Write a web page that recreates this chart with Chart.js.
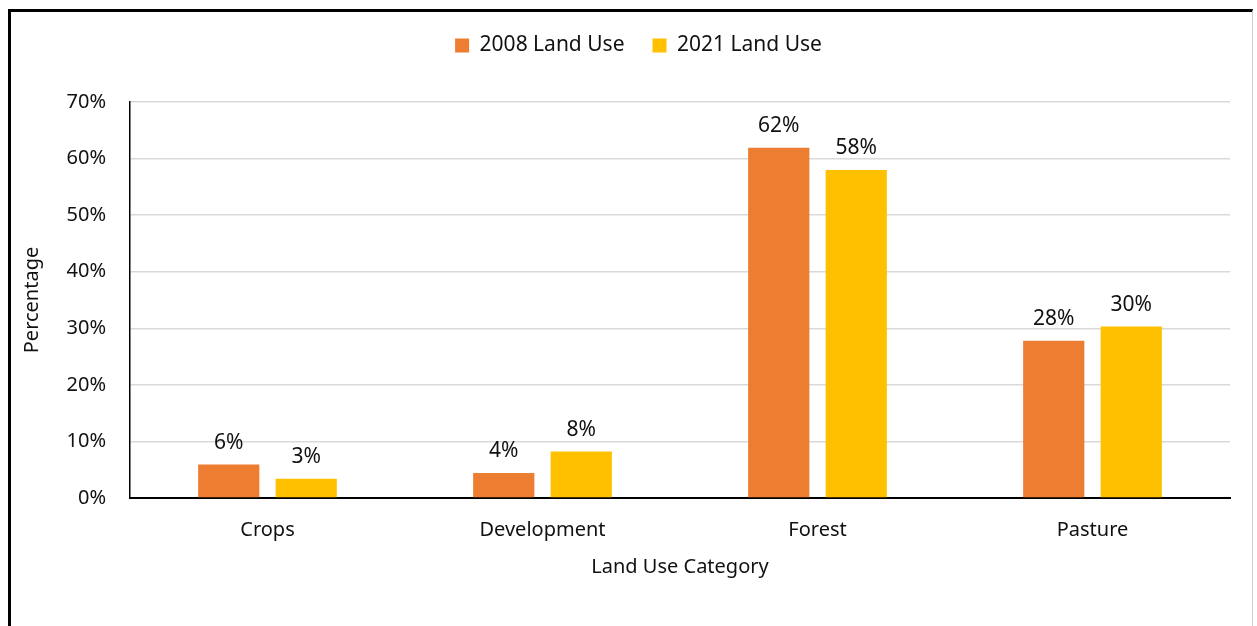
<!DOCTYPE html>
<html>
<head>
<meta charset="utf-8">
<script src="https://cdn.jsdelivr.net/npm/chart.js@4.4.1/dist/chart.umd.min.js"></script>
<style>
  html, body { margin: 0; padding: 0; background: #fff; overflow: hidden; }
  #wrap { position: relative; width: 1257px; height: 626px; }
  #frame { position: absolute; left: 8px; top: 9px; width: 1245px; height: 700px;
           border-left: 3px solid #000; border-top: 3px solid #000; border-right: 1px solid #d0d0d0; box-sizing: border-box; }
  canvas { position: absolute; left: 0; top: 0; }
</style>
</head>
<body>
<div id="wrap">
  <div id="frame"></div>
  <canvas id="grafico-uso-terra" width="1257" height="626"></canvas>
</div>
<script>
// categorias e valores (em %)
const categorias = ["Crops", "Development", "Forest", "Pasture"];
const uso2008 = [5.9, 4.4, 61.9, 27.8];
const uso2021 = [3.4, 8.2, 58.0, 30.3];
const ticksY = [0, 10, 20, 30, 40, 50, 60, 70];

const fonte = "'Noto Sans', 'Open Sans', sans-serif";
const corTexto = "#111";

// rótulos em cima das barras
const rotulosBarras = {
    id: "rotulosBarras",
    afterDatasetsDraw(chart) {
        const ctx = chart.ctx;
        ctx.save();
        ctx.font = "21px " + fonte;
        ctx.fillStyle = corTexto;
        ctx.textAlign = "center";
        ctx.textBaseline = "middle";
        chart.data.datasets.forEach((ds, i) => {
            chart.getDatasetMeta(i).data.forEach((bar, j) => {
                ctx.fillText(Math.round(ds.data[j]) + "%", bar.x, bar.y - 22);
            });
        });
        ctx.restore();
    }
};

const dadosUso = {
    labels: categorias,
    datasets: [{
        label: "2008 Land Use",
        data: uso2008,
        backgroundColor: "#ED7D31",
    }, {
        label: "2021 Land Use",
        data: uso2021,
        backgroundColor: "#FFC000",
    }]
};

const configUso = {
    type: "bar",
    data: dadosUso,
    plugins: [rotulosBarras],
    options: {
        responsive: false,
        animation: false,
        categoryPercentage: 0.5636,
        barPercentage: 0.79,
        // padding esquerdo maior só para centralizar a legenda como no original
        layout: { padding: { left: 47, right: 27, top: 7, bottom: 45 } },
        plugins: {
            legend: {
                position: "top",
                weight: 3000,
                labels: {
                    font: { family: fonte, size: 21 },
                    color: corTexto,
                    boxWidth: 14,
                    boxHeight: 14,
                    padding: 28
                }
            },
            title: {
                display: true,
                text: "",
                weight: 2000,
                font: { size: 10 },
                padding: { top: 0, bottom: 24 }
            },
            tooltip: { enabled: false }
        },
        scales: {
            x: {
                grid: { display: false, drawTicks: false },
                border: { color: "#000", width: 2 },
                ticks: { font: { family: fonte, size: 20 }, color: corTexto, padding: 20 },
                title: {
                    display: true,
                    text: "Land Use Category",
                    font: { family: fonte, size: 20 },
                    color: corTexto,
                    padding: { top: 0, bottom: 2 }
                },
                afterFit(scale) { scale.height = 83; }
            },
            y: {
                min: 0,
                max: 70,
                afterBuildTicks(scale) { scale.ticks = ticksY.map(v => ({ value: v })); },
                grid: { color: "#d9d9d9", lineWidth: 1.5, drawTicks: false },
                border: { color: "#000", width: 1.5 },
                ticks: {
                    font: { family: fonte, size: 20 },
                    color: corTexto,
                    padding: 24,
                    callback: v => v + "%"
                },
                title: {
                    display: true,
                    text: "Percentage",
                    font: { family: fonte, size: 20 },
                    color: corTexto,
                    padding: { top: -27, bottom: 0 }
                },
                afterFit(scale) { scale.width = 83; }
            }
        }
    }
};

let graficoUso = new Chart(document.getElementById("grafico-uso-terra"), configUso);
</script>
</body>
</html>
